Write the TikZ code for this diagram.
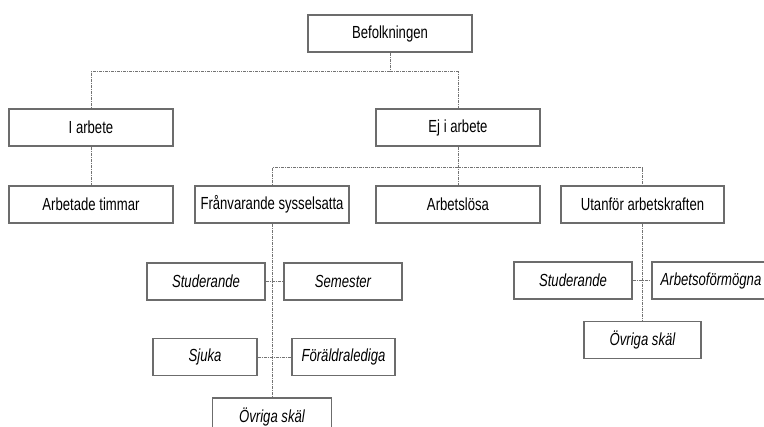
\documentclass[tikz,border=0pt]{standalone}
\usepackage{fontspec}
\setmainfont{Liberation Sans}[FakeStretch=0.75]

\begin{document}
\begin{tikzpicture}[x=1pt,y=-1pt,
    box/.style={draw=gray!85!black, line width=1.1pt, fill=white, minimum height=37pt,
                inner sep=0pt, text=black, font=\fontsize{17.5}{20}\selectfont},
    subbox/.style={box, font=\fontsize{17.5}{20}\selectfont\itshape},
    link/.style={draw=gray!90!black, line width=0.8pt, dash pattern=on 3pt off 1pt on 1pt off 1pt}]
    \path[use as bounding box, clip] (0,0) rectangle (764,427);

    % top level
    \node[box, minimum width=164pt] (bef) at (390,33.5) {Befolkningen};
    \node[box, minimum width=164pt] (iarb) at (91,127.5) {I arbete};
    \node[box, minimum width=164pt] (ej) at (458,127.5) {Ej i arbete};

    % second row
    \node[box, minimum width=164pt] (tim) at (91,204.5) {Arbetade timmar};
    \node[box, minimum width=154pt] (fran) at (272,204.5) {Frånvarande sysselsatta};
    \node[box, minimum width=164pt] (los) at (458,204.5) {Arbetslösa};
    \node[box, minimum width=163pt] (utan) at (642.5,204.5) {Utanför arbetskraften};

    % under Frånvarande sysselsatta
    \node[subbox, minimum width=118pt] (fstud) at (206,281.5) {Studerande};
    \node[subbox, minimum width=118pt] (fsem) at (343,281.5) {Semester};
    \node[subbox, minimum width=104pt] (fsjuk) at (205,357) {Sjuka};
    \node[subbox, minimum width=103pt] (ffor) at (343.5,357) {Föräldralediga};
    \node[subbox, minimum width=119pt] (fovr) at (272,416.5) {Övriga skäl};

    % under Utanför arbetskraften
    \node[subbox, minimum width=118pt] (ustud) at (573,280.5) {Studerande};
    \node[subbox, minimum width=118pt] (uarb) at (711,280.5) {Arbetsoförmögna};
    \node[subbox, minimum width=117pt] (uovr) at (642.5,340) {Övriga skäl};

    % connectors
    \draw[link] (bef.south) -- ++(0,19) coordinate (j1);
    \draw[link] (j1) -| (iarb.north);
    \draw[link] (j1) -| (ej.north);
    \draw[link] (iarb.south) -- (tim.north);
    \draw[link] (ej.south) -- (los.north);
    \path (ej.south) ++(0,21) coordinate (j2);
    \draw[link] (j2) -| (fran.north);
    \draw[link] (j2) -| (utan.north);

    \draw[link] (fran.south) -- (fovr.north);
    \draw[link] (fstud.east) -- (fsem.west);
    \draw[link] (fsjuk.east) -- (ffor.west);

    \draw[link] (utan.south) -- (uovr.north);
    \draw[link] (ustud.east) -- (uarb.west);
\end{tikzpicture}
\end{document}
